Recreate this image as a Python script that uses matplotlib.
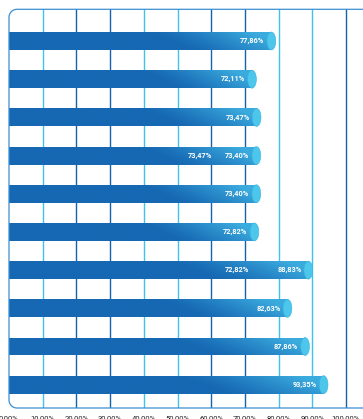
import numpy as np
import matplotlib
matplotlib.use("Agg")
import matplotlib.pyplot as plt
from matplotlib.patches import Ellipse, Rectangle
from matplotlib.lines import Line2D

# bar values, top to bottom (percent)
values = [77.86, 72.11, 73.47, 73.40, 73.40, 72.82, 88.83, 82.63, 87.86, 93.35]
# extra value printed inside some bars, with where its text ends
inner_labels = {3: 73.47, 6: 72.82}
inner_label_x = {3: 60.2, 6: 71.3}
ticks = [0, 10, 20, 30, 40, 50, 60, 70, 80, 90, 100]

W, H = 363, 419
DARK = np.array([0x16, 0x68, 0xb3]) / 255
LIGHT = np.array([0x3b, 0xab, 0xde]) / 255
CAP = "#4cc6ea"
GRID_DARK = "#1562ab"
GRID_CYAN = "#3fc3ea"


def pct(v):
    return f"{v:.2f}".replace(".", ",") + "%"


fig = plt.figure(figsize=(W / 100, H / 100), dpi=100)
plt.rcParams["font.family"] = ["Roboto", "DejaVu Sans"]

top_px, bot_px, left_px = 9.3, 408.0, 9.0
ax = fig.add_axes([left_px / W, 1 - bot_px / H, 1 - left_px / W, (bot_px - top_px) / H])
x_max = (W - left_px) / 3.37
ax.set_xlim(0, x_max)
ax.set_ylim(9.61, -0.83)
for s in ax.spines.values():
    s.set_visible(False)
ax.set_yticks([])
ax.set_xticks(ticks)
ax.set_xticklabels([f"{t},00%" for t in ticks])
ax.tick_params(axis="x", length=0, pad=5.5, labelsize=5.5, labelcolor="#222222")

# vertical grid, alternating colours
grid_cols = [None, GRID_CYAN, GRID_DARK, GRID_DARK, GRID_CYAN, GRID_CYAN,
             GRID_DARK, GRID_DARK, GRID_CYAN, GRID_CYAN, GRID_DARK]
for t, c in zip(ticks[1:], grid_cols[1:]):
    ax.axvline(t, color=c, lw=1.0, zorder=1)

bh = 0.47
ny, nx = 40, 400
yy, xx = np.mgrid[0:1:ny * 1j, 0:1:nx * 1j]
for i, v in enumerate(values):
    # diagonal shading brightening toward the bar end
    f = np.clip((xx - 0.62 + 0.15 * (0.5 - yy)) / 0.38, 0, 1) ** 1.2
    img = DARK[None, None, :] * (1 - f[..., None]) + LIGHT[None, None, :] * f[..., None]
    im = ax.imshow(img, extent=(0, v, i + bh / 2, i - bh / 2), aspect="auto",
                   interpolation="bilinear", zorder=2)
    clip = Rectangle((0, i - bh / 2), v, bh, transform=ax.transData)
    im.set_clip_path(clip)
    ax.add_patch(Ellipse((v, i), 2.6, bh, facecolor=CAP, edgecolor="#3bb3e0",
                         lw=0.4, zorder=3))
    ax.annotate(pct(v), (v, i), xytext=(-5, 0), textcoords="offset points",
                ha="right", va="center", color="white", fontsize=5.3,
                fontweight="semibold", zorder=4)
    if i in inner_labels:
        ax.text(inner_label_x[i], i, pct(inner_labels[i]), ha="right",
                va="center", color="white", fontsize=5.3, fontweight="semibold",
                zorder=4)

# outer frame with rounded left corners
r = 8.0
a1 = np.linspace(np.pi / 2, np.pi, 20)
a2 = np.linspace(np.pi, 1.5 * np.pi, 20)
px = np.concatenate([[W + 20], left_px + r + r * np.cos(a1),
                     left_px + r + r * np.cos(a2), [W + 20]])
py = np.concatenate([[top_px], top_px + r - r * np.sin(a1),
                     bot_px - r - r * np.sin(a2), [bot_px]])
fig.add_artist(Line2D(px / W, 1 - py / H, color="#3b8fd2", lw=0.9,
                      transform=fig.transFigure, zorder=5))

fig.savefig("out.png", dpi=100)
